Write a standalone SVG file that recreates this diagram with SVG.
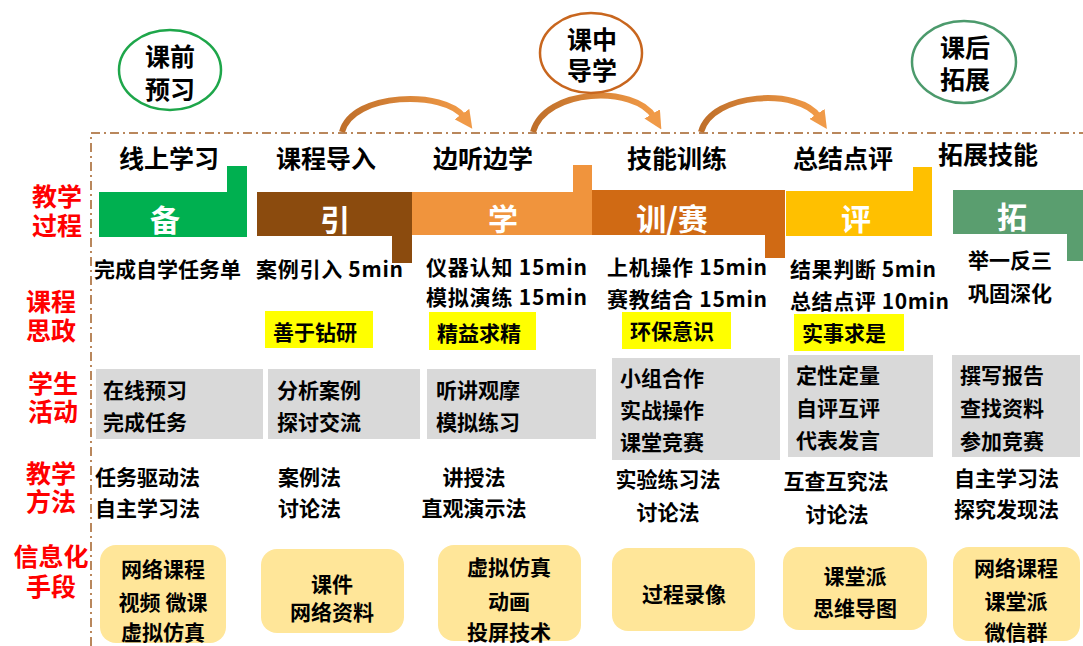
<svg xmlns="http://www.w3.org/2000/svg" width="1083" height="646" viewBox="0 0 1083 646">
<defs>
<style>
text{font-family:"Noto Sans CJK SC","Noto Sans",sans-serif;font-weight:700;}
.h{font-size:25px;fill:#000;text-anchor:middle;}
.lab{font-size:25px;fill:#ff0000;text-anchor:middle;}
.bar{font-size:30px;fill:#fff;text-anchor:middle;}
.t{font-size:21px;fill:#000;}
.c{font-size:21px;fill:#000;text-anchor:middle;}
.hl{fill:#ffff00;}
.gr{fill:#d9d9d9;}
.info{fill:#ffe699;}
.frame{fill:none;stroke:#b9875c;stroke-width:2;stroke-dasharray:9 4 2 4;}
.arc{fill:none;stroke:url(#ag);stroke-width:6;marker-end:url(#ah);}
</style>
<linearGradient id="ag" x1="0" y1="0" x2="1" y2="0">
<stop offset="0" stop-color="#bf6f2a"/>
<stop offset="1" stop-color="#f19a47"/>
</linearGradient>
<marker id="ah" viewBox="0 0 10 10" refX="2" refY="5" markerWidth="18" markerHeight="18" markerUnits="userSpaceOnUse" orient="auto">
<path d="M0,0 L10,5 L0,10 z" fill="#f09a48"/>
</marker>
</defs>
<rect width="1083" height="646" fill="#fff"/>

<g id="frame">
<path class="frame" d="M91,646 L91,133 L1083,133"/>
</g>

<g id="connectors">
<path class="arc" d="M342,132 C352,92 445,90 464,117"/>
<path class="arc" d="M533,132 C545,88 635,85 654,117"/>
<path class="arc" d="M701,132 C712,92 800,88 819,117"/>
</g>

<g id="phase-pre">
<ellipse cx="170" cy="70" rx="51" ry="40" fill="#fff" stroke="#1ea64a" stroke-width="2.5"/>
<text class="h" x="170" y="66">课前<tspan x="170" dy="33">预习</tspan></text>
</g>
<g id="phase-in">
<ellipse cx="591" cy="53" rx="51" ry="40" fill="#fff" stroke="#c8661e" stroke-width="2.5"/>
<text class="h" x="592" y="49">课中<tspan x="592" dy="31">导学</tspan></text>
</g>
<g id="phase-post">
<ellipse cx="964" cy="62" rx="52" ry="41" fill="#fff" stroke="#4c9a6c" stroke-width="2.5"/>
<text class="h" x="965" y="57">课后<tspan x="965" dy="32">拓展</tspan></text>
</g>

<g id="row-labels">
<text class="lab" x="57" y="206">教学<tspan x="57" dy="29">过程</tspan></text>
<text class="lab" x="51" y="311">课程<tspan x="51" dy="29">思政</tspan></text>
<text class="lab" x="53" y="393">学生<tspan x="53" dy="28">活动</tspan></text>
<text class="lab" x="51" y="483">教学<tspan x="51" dy="28">方法</tspan></text>
<text class="lab" x="51" y="566">信息化<tspan x="51" dy="30">手段</tspan></text>
</g>

<g id="step-bei">
<text class="h" x="169" y="168">线上学习</text>
<polygon points="99,192 227,192 227,166 247,166 247,237 99,237" fill="#00b050"/>
<text class="bar" x="165" y="231">备</text>
<text class="t" x="94" y="277">完成自学任务单</text>
<rect class="gr" x="96" y="369" width="167" height="70"/>
<text class="t" x="103" y="398">在线预习<tspan x="103" dy="32">完成任务</tspan></text>
<text class="t" x="95" y="485">任务驱动法<tspan x="95" dy="31">自主学习法</tspan></text>
<rect class="info" x="100" y="545" width="126" height="98" rx="16"/>
<text class="c" x="163" y="577">网络课程<tspan x="163" dy="33">视频 微课</tspan><tspan x="163" dy="30">虚拟仿真</tspan></text>
</g>

<g id="step-yin">
<text class="h" x="326" y="168">课程导入</text>
<polygon points="257,192 412,192 412,263 392,263 392,236 257,236" fill="#8b4b0e"/>
<text class="bar" x="335" y="231">引</text>
<text class="t" x="256" y="277" textLength="147" lengthAdjust="spacing">案例引入 5min</text>
<rect class="hl" x="265" y="311" width="108" height="37"/>
<text class="t" x="273" y="340">善于钻研</text>
<rect class="gr" x="268" y="369" width="152" height="70"/>
<text class="t" x="277" y="398">分析案例<tspan x="277" dy="32">探讨交流</tspan></text>
<text class="t" x="278" y="485">案例法<tspan x="278" dy="31">讨论法</tspan></text>
<rect class="info" x="261" y="549" width="143" height="84" rx="16"/>
<text class="c" x="332" y="592">课件<tspan x="332" dy="28">网络资料</tspan></text>
</g>

<g id="step-xue">
<text class="h" x="483" y="168">边听边学</text>
<polygon points="412,192 573,192 573,165 592,165 592,235 412,235" fill="#f0943d"/>
<text class="bar" x="503" y="230">学</text>
<text class="t" x="426" y="275"><tspan textLength="161" lengthAdjust="spacing">仪器认知 15min</tspan><tspan x="426" dy="30" textLength="161" lengthAdjust="spacing">模拟演练 15min</tspan></text>
<rect class="hl" x="429" y="312" width="107" height="38"/>
<text class="t" x="437" y="341">精益求精</text>
<rect class="gr" x="427" y="369" width="169" height="70"/>
<text class="t" x="436" y="398">听讲观摩<tspan x="436" dy="32">模拟练习</tspan></text>
<text class="c" x="474" y="485">讲授法<tspan x="474" dy="31">直观演示法</tspan></text>
<rect class="info" x="438" y="545" width="143" height="96" rx="16"/>
<text class="c" x="509" y="575">虚拟仿真<tspan x="509" dy="34">动画</tspan><tspan x="509" dy="31">投屏技术</tspan></text>
</g>

<g id="step-xun">
<text class="h" x="677" y="168">技能训练</text>
<polygon points="592,190 785,190 785,258 765,258 765,235 592,235" fill="#d06a14"/>
<text class="bar" x="672" y="230">训/赛</text>
<text class="t" x="607" y="275"><tspan textLength="160" lengthAdjust="spacing">上机操作 15min</tspan><tspan x="607" dy="32" textLength="160" lengthAdjust="spacing">赛教结合 15min</tspan></text>
<rect class="hl" x="622" y="312" width="109" height="37"/>
<text class="t" x="630" y="339">环保意识</text>
<rect class="gr" x="612" y="358" width="168" height="102"/>
<text class="t" x="620" y="386">小组合作<tspan x="620" dy="32">实战操作</tspan><tspan x="620" dy="32">课堂竞赛</tspan></text>
<text class="c" x="668" y="487">实验练习法<tspan x="668" dy="33">讨论法</tspan></text>
<rect class="info" x="612" y="548" width="143" height="83" rx="16"/>
<text class="c" x="684" y="602">过程录像</text>
</g>

<g id="step-ping">
<text class="h" x="843" y="168">总结点评</text>
<polygon points="786,191 913,191 913,167 932,167 932,236 786,236" fill="#ffc000"/>
<text class="bar" x="856" y="230">评</text>
<text class="t" x="790" y="277"><tspan textLength="146" lengthAdjust="spacing">结果判断 5min</tspan><tspan x="790" dy="32" textLength="159" lengthAdjust="spacing">总结点评 10min</tspan></text>
<rect class="hl" x="794" y="314" width="110" height="37"/>
<text class="t" x="802" y="341">实事求是</text>
<rect class="gr" x="788" y="355" width="145" height="102"/>
<text class="t" x="796" y="383">定性定量<tspan x="796" dy="33">自评互评</tspan><tspan x="796" dy="32">代表发言</tspan></text>
<text class="c" x="836" y="489">互查互究法<tspan x="837" dy="33">讨论法</tspan></text>
<rect class="info" x="783" y="547" width="144" height="83" rx="16"/>
<text class="c" x="855" y="584">课堂派<tspan x="855" dy="32">思维导图</tspan></text>
</g>

<g id="step-tuo">
<text class="h" x="988" y="164">拓展技能</text>
<polygon points="953,190 1083,190 1083,261 1067,261 1067,234 953,234" fill="#5a9e6f"/>
<text class="bar" x="1012" y="228">拓</text>
<text class="t" x="968" y="268">举一反三<tspan x="968" dy="33">巩固深化</tspan></text>
<rect class="gr" x="952" y="355" width="128" height="102"/>
<text class="t" x="960" y="383">撰写报告<tspan x="960" dy="33">查找资料</tspan><tspan x="960" dy="33">参加竞赛</tspan></text>
<text class="t" x="954" y="486">自主学习法<tspan x="954" dy="31">探究发现法</tspan></text>
<rect class="info" x="953" y="547" width="127" height="94" rx="16"/>
<text class="c" x="1016" y="576">网络课程<tspan x="1016" dy="33">课堂派</tspan><tspan x="1016" dy="31">微信群</tspan></text>
</g>
</svg>
